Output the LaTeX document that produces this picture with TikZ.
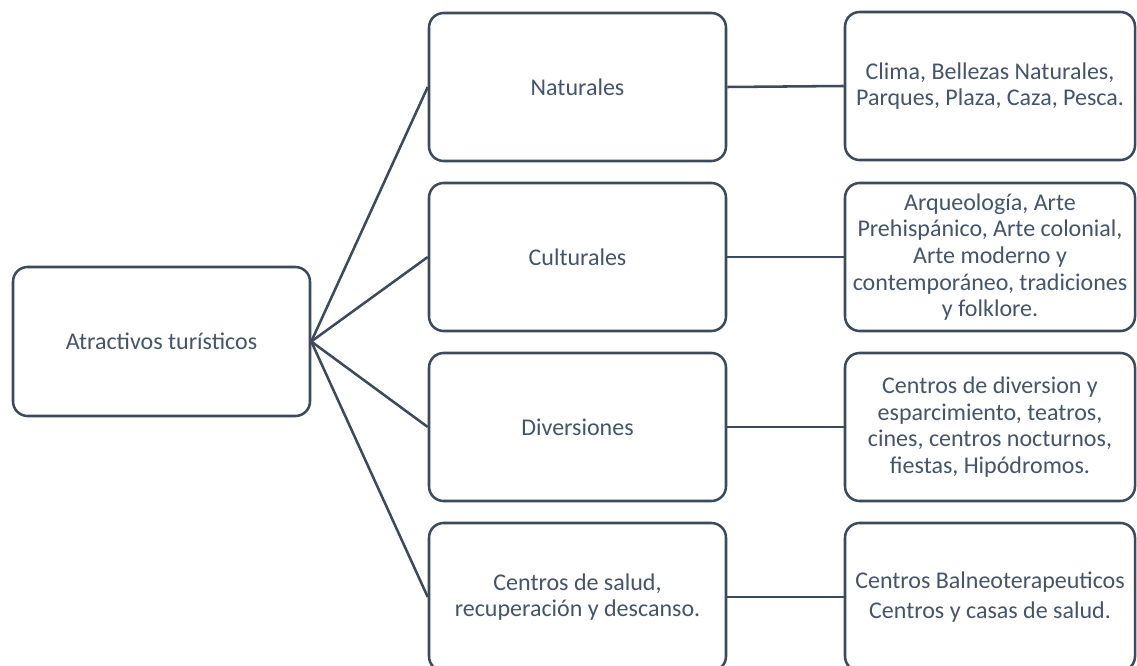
\documentclass[tikz,border=0pt]{standalone}
\usepackage{fontspec}
\setmainfont{Carlito}
\definecolor{edge}{HTML}{3D4A5B}
\definecolor{txt}{HTML}{44546A}
\begin{document}
\begin{tikzpicture}[x=0.75pt,y=-0.75pt,
  box/.style={draw=edge, line width=1.9pt, rounded corners=11pt, fill=white,
    text=txt, align=center, font=\fontsize{18pt}{20pt}\selectfont, inner sep=2pt},
  rootbox/.style={box, minimum width=222.75pt, minimum height=111.75pt},
  midbox/.style={box, minimum width=222.75pt, minimum height=111pt},
  rightbox/.style={box, minimum width=217.5pt, minimum height=111pt},
  link/.style={draw=edge, line width=1.9pt}]
\useasboundingbox (0,0) rectangle (1137,666);
\node[rootbox] (root) at (161.5,341.5) {Atractivos turísticos};
\node[midbox] (m1) at (577.5,87) {Naturales};
\node[midbox] (m2) at (577.5,257) {Culturales};
\node[midbox] (m3) at (577.5,427) {Diversiones};
\node[midbox] (m4) at (577.5,597) {Centros de salud,\\recuperación y descanso.};
\node[rightbox] (r1) at (990,86) {Clima, Bellezas Naturales,\\Parques, Plaza, Caza, Pesca.};
\node[rightbox] (r2) at (990,257) {Arqueología, Arte\\Prehispánico, Arte colonial,\\Arte moderno y\\contemporáneo, tradiciones\\y folklore.};
\node[rightbox] (r3) at (990,427) {Centros de diversion y\\esparcimiento, teatros,\\cines, centros nocturnos,\\fiestas, Hipódromos.};
\node[rightbox] (r4) at (990,597) {Centros Balneoterapeuticos\\[3pt]Centros y casas de salud.};
\foreach \m in {m1,m2,m3,m4} \draw[link] (root.east) -- (\m.west);
\draw[link] (m1.east) -- (r1.west);
\draw[link] (m2.east) -- (r2.west);
\draw[link] (m3.east) -- (r3.west);
\draw[link] (m4.east) -- (r4.west);
\end{tikzpicture}
\end{document}
